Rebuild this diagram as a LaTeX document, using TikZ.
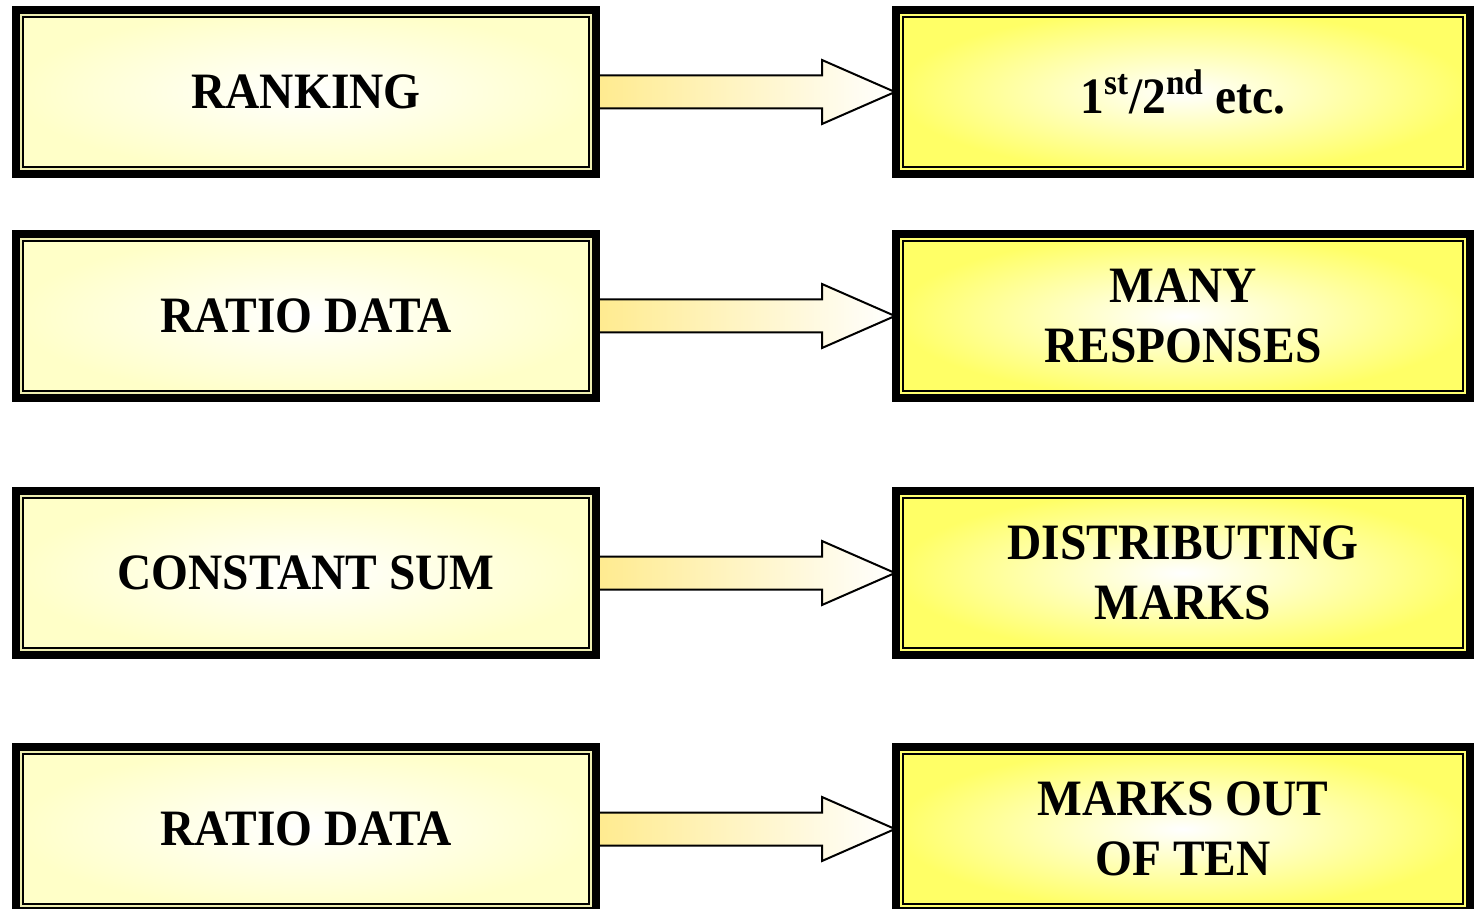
\documentclass[tikz,border=0pt]{standalone}
\usepackage{fontspec}
\setmainfont{Liberation Serif}[FakeStretch=0.93]
\usetikzlibrary{positioning,calc}

\definecolor{palefill}{HTML}{FFFFC8}
\definecolor{palerule}{HTML}{EDEDB0}
\definecolor{brightfill}{HTML}{FFFF66}
\definecolor{brightrule}{HTML}{FFFF70}
\definecolor{shaftgold}{HTML}{FFEB90}

\tikzset{framed/.style={path picture={
    \draw[#1, line width=1pt] ([shift={(2.5pt,2.5pt)}]path picture bounding box.south west) rectangle ([shift={(-2.5pt,-2.5pt)}]path picture bounding box.north east);
    \draw[black, line width=1pt] ([shift={(3.5pt,3.5pt)}]path picture bounding box.south west) rectangle ([shift={(-3.5pt,-3.5pt)}]path picture bounding box.north east);
}}}

\tikzstyle{box} = [rectangle, draw=black, line width=4pt, minimum height=82pt, align=center, font=\bfseries\fontsize{25.5}{30}\selectfont]
\tikzstyle{sbox} = [box, minimum width=290pt, inner color=white, outer color=palefill, framed=palerule]
\tikzstyle{tbox} = [box, minimum width=287pt, inner color=white, outer color=brightfill, framed=brightrule]
\tikzstyle{fat} = [draw=black, line width=1pt, line join=miter, left color=shaftgold, right color=white]

\begin{document}
\begin{tikzpicture}[x=0.5pt,y=-0.5pt]
\useasboundingbox (0,0) rectangle (1474,909);

\node[sbox] (Ranking) at (306,92) {RANKING};
\node[tbox] (Ordinal) [right=146pt of Ranking] {1\textsuperscript{st}/2\textsuperscript{nd} etc.};

\node[sbox] (RatioA) [below=26pt of Ranking] {RATIO DATA};
\node[tbox] (Responses) [right=146pt of RatioA] {MANY\\RESPONSES};

\node[sbox] (ConstSum) [below=42.5pt of RatioA] {CONSTANT SUM};
\node[tbox] (Distributing) [right=146pt of ConstSum] {DISTRIBUTING\\MARKS};

\node[sbox] (RatioB) [below=42pt of ConstSum] {RATIO DATA};
\node[tbox] (OutOfTen) [right=146pt of RatioB] {MARKS OUT\\OF TEN};

% block arrows, left column to right column
\foreach \from/\to in {Ranking/Ordinal, RatioA/Responses, ConstSum/Distributing, RatioB/OutOfTen}
    \path[fat] ($(\from.east)+(0,8.25pt)$) -- ($(\to.west)+(-35pt,8.25pt)$) -- ($(\to.west)+(-35pt,16pt)$)
        -- ($(\to.west)+(1.5pt,0)$) -- ($(\to.west)+(-35pt,-16pt)$) -- ($(\to.west)+(-35pt,-8.25pt)$)
        -- ($(\from.east)+(0,-8.25pt)$);

\end{tikzpicture}
\end{document}
